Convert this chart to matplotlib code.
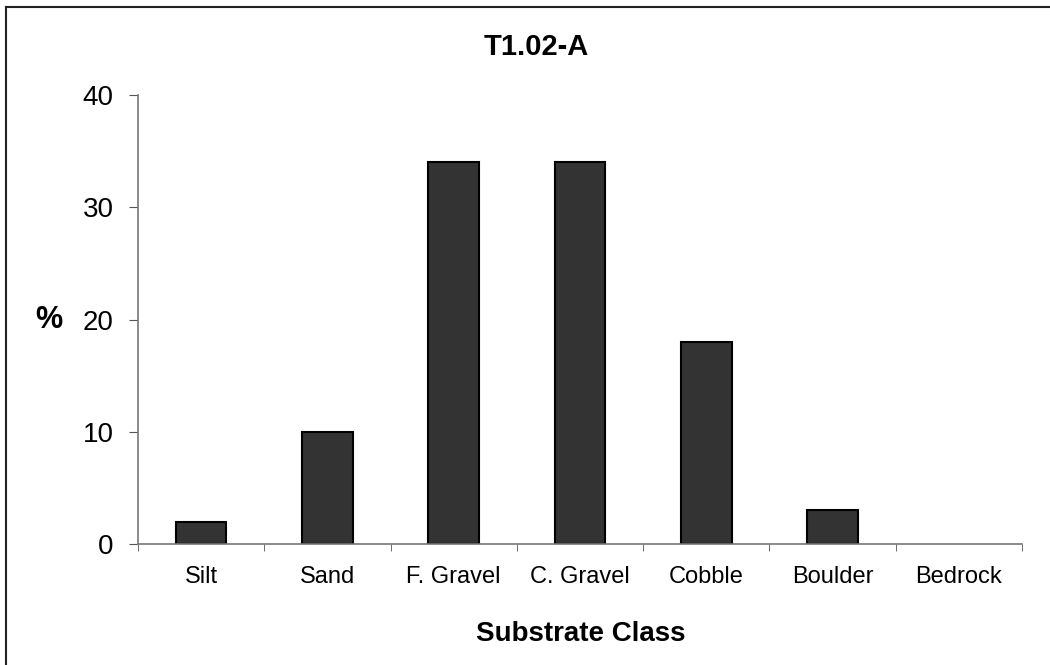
import matplotlib.pyplot as plt
from matplotlib.lines import Line2D

plt.rcParams['font.family'] = ['Liberation Sans', 'DejaVu Sans']

categories = ["Silt", "Sand", "F. Gravel", "C. Gravel", "Cobble", "Boulder", "Bedrock"]
percent = [2, 10, 34, 34, 18, 3, 0]

W, H = 1050, 665
fig = plt.figure(figsize=(W / 100, H / 100), dpi=100)
ax = fig.add_axes([138 / W, 1 - 544 / H, (1022 - 138) / W, (544 - 95) / H])

x = list(range(len(categories)))
# no outline on empty bars, so a 0% class leaves no mark on the axis
edge_widths = [1.5 if v > 0 else 0 for v in percent]
ax.bar(x, percent, width=0.4, color="#333333", edgecolor="black", linewidth=edge_widths, zorder=2)

ax.set_xlim(-0.5, len(categories) - 0.5)
ax.set_ylim(0, 40)
ax.set_yticks([0, 10, 20, 30, 40])
ax.set_xticks(x)
ax.set_xticklabels(categories, fontsize=17)
ax.set_xticks([i - 0.5 for i in range(len(categories) + 1)], minor=True)
ax.tick_params(axis="x", which="major", length=0, pad=16)
ax.tick_params(axis="x", which="minor", length=5, color="#555555", direction="out")
ax.tick_params(axis="y", labelsize=20, length=6.5, color="#555555", pad=11)

for s in ["top", "right"]:
    ax.spines[s].set_visible(False)
for s in ["left", "bottom"]:
    ax.spines[s].set_color("#777777")
    ax.spines[s].set_linewidth(1.2)
    ax.spines[s].set_zorder(3)

# title and axis labels
fig.text(536 / W, 1 - 47 / H, "T1.02-A", fontsize=21, fontweight="bold", ha="center", va="center")
fig.text(581 / W, 1 - 634 / H, "Substrate Class", fontsize=20, fontweight="bold", ha="center", va="center")
fig.text(49 / W, 1 - 320 / H, "%", fontsize=22, fontweight="bold", ha="center", va="center")

# chart border (only top and left edges fall inside the image)
fig.add_artist(Line2D([6 / W, 1], [1 - 7 / H, 1 - 7 / H], transform=fig.transFigure, color="#222222", linewidth=1.5))
fig.add_artist(Line2D([6 / W, 6 / W], [0, 1 - 7 / H], transform=fig.transFigure, color="#222222", linewidth=1.5))

fig.savefig("out.png", dpi=100)
